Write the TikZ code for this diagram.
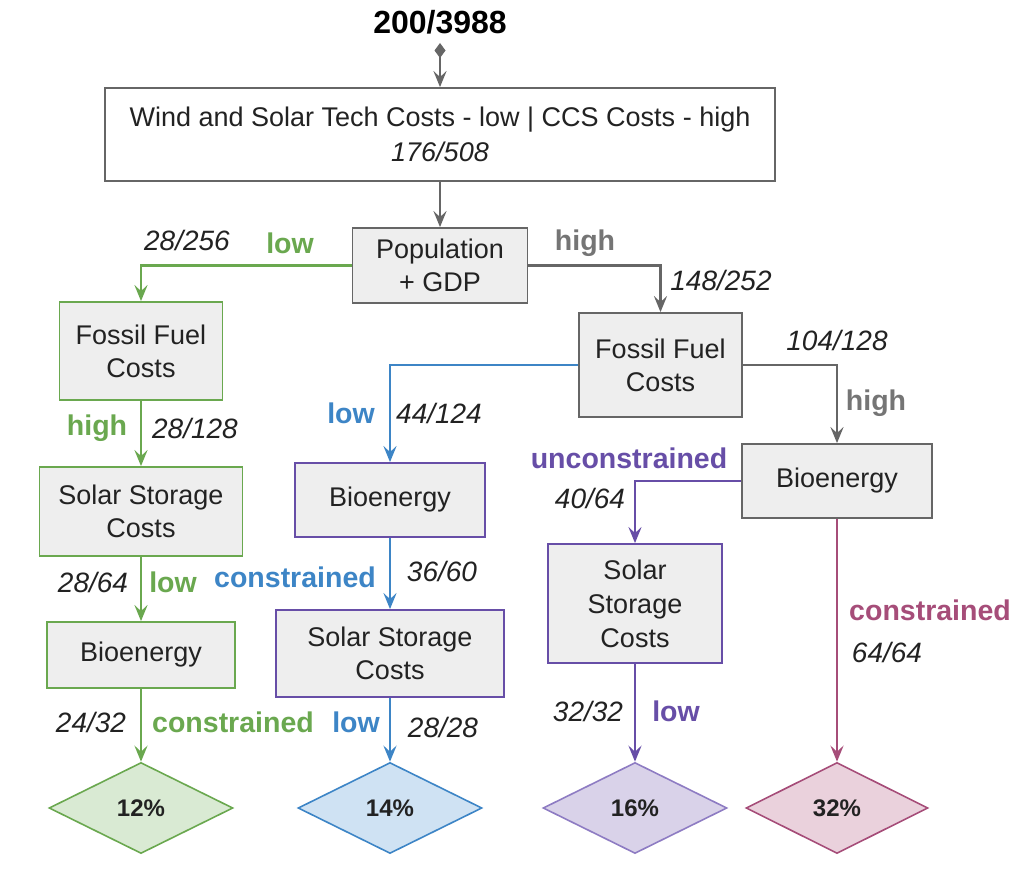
\documentclass[tikz,border=0pt]{standalone}
\usepackage{fontspec}
\setmainfont{Liberation Sans}
\usetikzlibrary{arrows.meta,shapes.geometric}
\definecolor{cgreen}{HTML}{6AA84F}
\definecolor{cgreenf}{HTML}{D9EAD3}
\definecolor{cblue}{HTML}{3D85C6}
\definecolor{cbluef}{HTML}{CFE2F3}
\definecolor{cpurple}{HTML}{674EA7}
\definecolor{cpurpled}{HTML}{8E7CC3}
\definecolor{cpurplef}{HTML}{D9D2E9}
\definecolor{cpink}{HTML}{A64D79}
\definecolor{cpinkf}{HTML}{EAD1DC}
\definecolor{cgray}{HTML}{666666}
\definecolor{cgraytxt}{HTML}{757575}
\definecolor{cboxf}{HTML}{EEEEEE}
\definecolor{ctext}{HTML}{222222}
\tikzset{
  box/.style={draw=cgray, fill=cboxf, line width=1.8pt, inner sep=0pt, align=center,
    text=ctext, font=\fontsize{27}{33}\selectfont},
  gbox/.style={box, draw=cgreen},
  pbox/.style={box, draw=cpurple},
  dia/.style={diamond, draw, line width=1.6pt, inner sep=0pt, aspect=2,
    minimum width=184pt, minimum height=91pt, text=ctext, font=\fontsize{24}{28}\selectfont\bfseries},
  frac/.style={font=\fontsize{28}{30}\selectfont\itshape, text=ctext, inner sep=0pt},
  lab/.style={font=\fontsize{28.5}{30}\selectfont\bfseries, inner sep=0pt},
  conn/.style={line width=2.8pt, -{Stealth[length=16pt,width=13pt,inset=6pt]}},
}
\begin{document}
\begin{tikzpicture}[x=1pt,y=-1pt]
\useasboundingbox (0,0) rectangle (1036,882);
\fill[white] (0,0) rectangle (1036,882);

% title and top box
\node[font=\fontsize{32}{34}\selectfont\bfseries, text=black, inner sep=0pt] (title) at (440,22) {200/3988};
\coordinate (tstart) at (440,43);
\node[box, fill=white, minimum width=670pt, minimum height=93pt,
      font=\fontsize{27}{35}\selectfont] (top) at (440,134.5)
  {Wind and Solar Tech Costs - low | CCS Costs - high\\ \itshape 176/508};

% boxes
\node[box, minimum width=175pt, minimum height=75pt] (pop) at (440,265.5) {Population\\+ GDP};
\node[gbox, minimum width=163pt, minimum height=98pt] (ffL) at (141,351) {Fossil Fuel\\Costs};
\node[gbox, minimum width=203pt, minimum height=89pt] (ssL) at (141,511.5) {Solar Storage\\Costs};
\node[gbox, minimum width=188pt, minimum height=66pt] (bioL) at (141,655) {Bioenergy};
\node[box, minimum width=163pt, minimum height=104pt] (ffR) at (660.5,365) {Fossil Fuel\\Costs};
\node[pbox, minimum width=190pt, minimum height=74pt] (bioM) at (390,500) {Bioenergy};
\node[pbox, minimum width=228pt, minimum height=87pt] (ssM) at (390,653.5) {Solar Storage\\Costs};
\node[box, minimum width=190pt, minimum height=74pt] (bioR) at (837,481) {Bioenergy};
\node[pbox, minimum width=174pt, minimum height=119pt, font=\fontsize{27}{34}\selectfont] (ssR) at (635,603.5) {Solar\\Storage\\Costs};

% outcome diamonds
\node[dia, draw=cgreen, fill=cgreenf] (d12) at (141,808) {12\%};
\node[dia, draw=cblue, fill=cbluef] (d14) at (390,808) {14\%};
\node[dia, draw=cpurpled, fill=cpurplef] (d16) at (635,808) {16\%};
\node[dia, draw=cpink, fill=cpinkf, minimum width=182pt] (d32) at (837,808) {32\%};

% connectors
\draw[cgray, line width=2.6pt, {Diamond[length=15pt,width=11pt]}-{Stealth[length=16pt,width=13pt,inset=6pt]}] (tstart) -- (top.north);
\draw[conn, cgray] (top.south) -- (pop.north);
\draw[conn, cgreen] (pop.west) -| (ffL.north);
\draw[conn, cgray] (pop.east) -| (ffR.north);
\draw[conn, cgreen] (ffL.south) -- (ssL.north);
\draw[conn, cgreen] (ssL.south) -- (bioL.north);
\draw[conn, cgreen] (bioL.south) -- (d12.north);
\draw[conn, cblue] (ffR.west) -| (bioM.north);
\draw[conn, cblue] (bioM.south) -- (ssM.north);
\draw[conn, cblue] (ssM.south) -- (d14.north);
\draw[conn, cgray] (ffR.east) -| (bioR.north);
\draw[conn, cpurple] (bioR.west) -| (ssR.north);
\draw[conn, cpurple] (ssR.south) -- (d16.north);
\draw[conn, cpink] (bioR.south) -- (d32.north);

% labels
\node[frac] (f1) at (187,240) {28/256};
\node[lab, text=cgreen] (l1) at (290,243) {low};
\node[lab, text=cgraytxt] (l2) at (585,243) {high};
\node[frac] (f2) at (721,280) {148/252};
\node[lab, text=cgreen] (l3) at (97,428) {high};
\node[frac] (f3) at (195,428) {28/128};
\node[lab, text=cblue] (l4) at (351,413) {low};
\node[frac] (f4) at (439,413) {44/124};
\node[frac] (f5) at (837,340) {104/128};
\node[lab, text=cgraytxt] (l5) at (876,403) {high};
\node[lab, text=cpurple] (l6) at (629,458) {unconstrained};
\node[frac] (f6) at (590,498) {40/64};
\node[frac] (f7) at (93,582) {28/64};
\node[lab, text=cgreen] (l7) at (173,582) {low};
\node[lab, text=cblue] (l8) at (295,577) {constrained};
\node[frac] (f8) at (442,571) {36/60};
\node[frac] (f9) at (91,722) {24/32};
\node[lab, text=cgreen] (l9) at (233,722) {constrained};
\node[lab, text=cblue] (l10) at (356,722) {low};
\node[frac] (f10) at (443,727) {28/28};
\node[frac] (f11) at (588,711) {32/32};
\node[lab, text=cpurple] (l11) at (676,711) {low};
\node[lab, text=cpink] (l12) at (930,610) {constrained};
\node[frac] (f12) at (887,652) {64/64};
\end{tikzpicture}
\end{document}
